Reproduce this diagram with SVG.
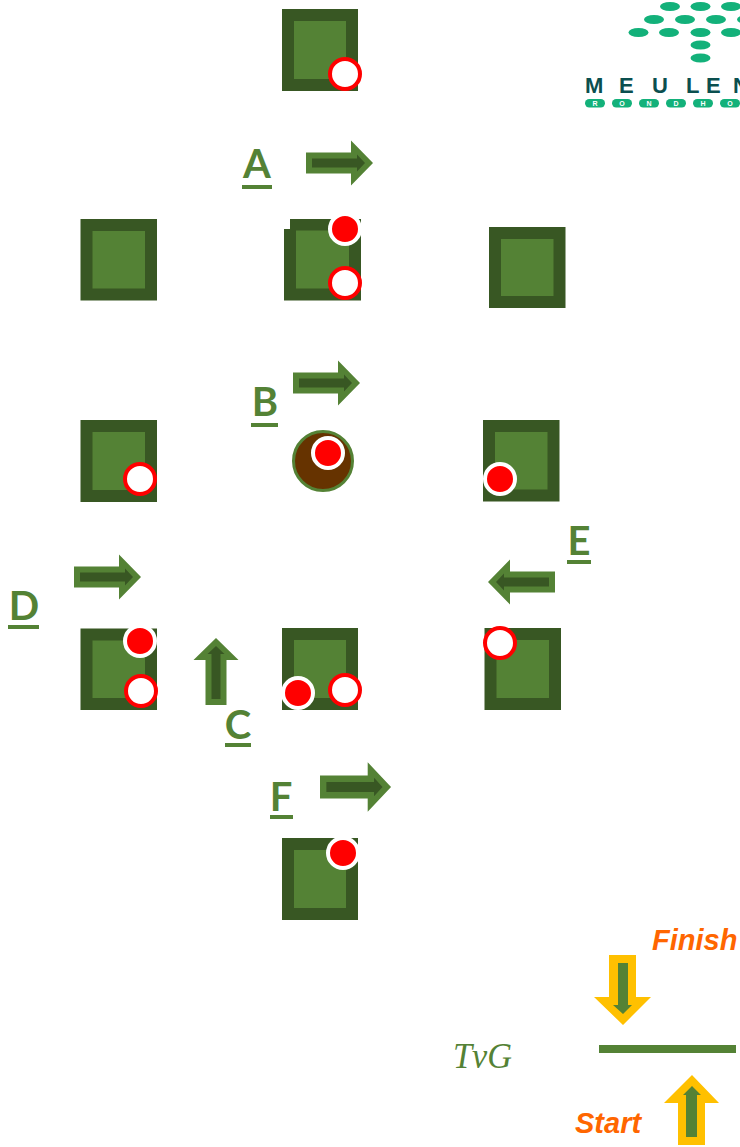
<svg xmlns="http://www.w3.org/2000/svg" xmlns:xlink="http://www.w3.org/1999/xlink" width="740" height="1147" viewBox="0 0 740 1147">
<style>
.o{fill:#385723}.i{fill:#548235}
.rd{fill:#f00;stroke:#fff;stroke-width:4}
.wh{fill:#fff;stroke:#f00;stroke-width:4}
.lb{font-family:Lato,"Open Sans",sans-serif;font-weight:700;font-size:40px;fill:#548235;text-anchor:middle}
.se{font-family:"Liberation Sans",Arial,sans-serif;font-weight:700;font-style:italic;font-size:29px;fill:#f60}
.dot{fill:#13b17a}
.lg{font-family:"Liberation Sans",Arial,sans-serif;font-weight:700;font-size:22px;fill:#0b4f4f}
.rh{font-family:"Liberation Sans",Arial,sans-serif;font-weight:700;font-size:7px;fill:#fff;text-anchor:middle}
</style>
<defs>
<g id="ar">
<path class="i" d="M0-10.500H45V-22.500L67 0 45 22.500V10.500H0Z"/>
<path class="o" d="M6-4.500H51V-8.500L59 0 51 8.500V4.500H6Z"/>
</g>
</defs>
<rect width="740" height="1147" fill="#fff"/>
<g id="logo">
<ellipse class="dot" cx="670" cy="6.500" rx="10" ry="4.500"/><ellipse class="dot" cx="700.500" cy="6.500" rx="10" ry="4.500"/><ellipse class="dot" cx="731" cy="6.500" rx="10" ry="4.500"/>
<ellipse class="dot" cx="654" cy="19.500" rx="10" ry="4.500"/><ellipse class="dot" cx="685" cy="19.500" rx="10" ry="4.500"/><ellipse class="dot" cx="716" cy="19.500" rx="10" ry="4.500"/><ellipse class="dot" cx="747" cy="19.500" rx="10" ry="4.500"/>
<ellipse class="dot" cx="638.500" cy="32.500" rx="10" ry="4.500"/><ellipse class="dot" cx="669" cy="32.500" rx="10" ry="4.500"/><ellipse class="dot" cx="700.500" cy="32.500" rx="10" ry="4.500"/><ellipse class="dot" cx="731" cy="32.500" rx="10" ry="4.500"/>
<ellipse class="dot" cx="700.500" cy="45" rx="10" ry="4.500"/><ellipse class="dot" cx="700.500" cy="58" rx="10" ry="4.500"/>
<text class="lg" x="585" y="93">M</text><text class="lg" x="619" y="93">E</text><text class="lg" x="652" y="93">U</text><text class="lg" x="686" y="93">L</text><text class="lg" x="706" y="93">E</text><text class="lg" x="733" y="93">N</text>
<rect class="dot" x="585" y="99" width="20" height="8.500" rx="4.200"/><rect class="dot" x="612" y="99" width="20" height="8.500" rx="4.200"/><rect class="dot" x="639" y="99" width="20" height="8.500" rx="4.200"/><rect class="dot" x="666" y="99" width="20" height="8.500" rx="4.200"/><rect class="dot" x="693" y="99" width="20" height="8.500" rx="4.200"/><rect class="dot" x="720" y="99" width="20" height="8.500" rx="4.200"/>
<text class="rh" x="595" y="106">R</text><text class="rh" x="622" y="106">O</text><text class="rh" x="649" y="106">N</text><text class="rh" x="676" y="106">D</text><text class="rh" x="703" y="106">H</text><text class="rh" x="730" y="106">O</text>
</g>
<g id="connectors">
<use xlink:href="#ar" href="#ar" transform="translate(306 163)"/>
<use xlink:href="#ar" href="#ar" transform="translate(293 383)"/>
<use xlink:href="#ar" href="#ar" transform="translate(74 577)"/>
<use xlink:href="#ar" href="#ar" transform="translate(555 582) scale(-1 1)"/>
<use xlink:href="#ar" href="#ar" transform="translate(216 705) rotate(-90)"/>
<use xlink:href="#ar" href="#ar" transform="translate(320 787) scale(1.060 1.100)"/>
<g id="finish-arrow"><path fill="#ffc000" d="M609 955H636V997H651L623 1025 594 997H609Z"/><path class="i" d="M618 963H628V1005H632L623 1014 613 1005H618Z"/></g>
<g id="start-arrow"><path fill="#ffc000" d="M678 1145V1103H664L692 1075 719 1103H705V1145Z"/><path class="i" d="M686 1137V1095H683L692 1086 701 1095H697V1137Z"/></g>
</g>
<g id="label-A"><text class="lb" x="257" y="178">A</text><rect class="i" x="242" y="185" width="30" height="4"/></g>
<g id="label-B"><text class="lb" x="265" y="416">B</text><rect class="i" x="251" y="423" width="27" height="4"/></g>
<g id="label-C"><text class="lb" x="238" y="739">C</text><rect class="i" x="225" y="743" width="26" height="4"/></g>
<g id="label-D"><text class="lb" x="24" y="620">D</text><rect class="i" x="8" y="625" width="31" height="4"/></g>
<g id="label-E"><text class="lb" x="579" y="555">E</text><rect class="i" x="567" y="560" width="24" height="4"/></g>
<g id="label-F"><text class="lb" x="281" y="811">F</text><rect class="i" x="270" y="815" width="23" height="4"/></g>
<g id="node-top"><rect class="o" x="282" y="9" width="76" height="82"/><rect class="i" x="294" y="21" width="52" height="58"/><circle class="wh" cx="345" cy="74" r="15"/></g>
<g id="node-a-left"><rect class="o" x="80.500" y="219" width="76.500" height="81.500"/><rect class="i" x="92.500" y="231" width="52.500" height="57.500"/></g>
<g id="node-a-mid"><path class="o" d="M290 219H361V300.500H284V229H290Z"/><rect class="i" x="296" y="230.500" width="53" height="58"/><circle class="rd" cx="345" cy="229" r="15"/><circle class="wh" cx="345" cy="283" r="15"/></g>
<g id="node-a-right"><rect class="o" x="489" y="227" width="76.500" height="81"/><rect class="i" x="501" y="239" width="52.500" height="57"/></g>
<g id="node-b-left"><rect class="o" x="80.500" y="420" width="76.500" height="82"/><rect class="i" x="92.500" y="432" width="52.500" height="58"/><circle class="wh" cx="140" cy="479" r="15"/></g>
<g id="node-b-mid"><circle cx="323" cy="461" r="29.500" fill="#663300" stroke="#548235" stroke-width="3"/><circle class="rd" cx="328" cy="453" r="15"/></g>
<g id="node-b-right"><rect class="o" x="483" y="420" width="76.500" height="81.500"/><rect class="i" x="495" y="432" width="52.500" height="57.500"/><circle class="rd" cx="500" cy="479" r="15"/></g>
<g id="node-c-left"><rect class="o" x="80.500" y="628.500" width="76.500" height="81.500"/><rect class="i" x="92.500" y="640.500" width="52.500" height="57.500"/><circle class="rd" cx="140" cy="641" r="15"/><circle class="wh" cx="141" cy="691" r="15"/></g>
<g id="node-c-mid"><rect class="o" x="282" y="628" width="76" height="82"/><rect class="i" x="294" y="640" width="52" height="58"/><circle class="rd" cx="298" cy="693" r="15"/><circle class="wh" cx="345" cy="690" r="15"/></g>
<g id="node-c-right"><rect class="o" x="484.500" y="628" width="76.500" height="82"/><rect class="i" x="496.500" y="640" width="52.500" height="58"/><circle class="wh" cx="500" cy="643" r="15"/></g>
<g id="node-f"><rect class="o" x="282" y="838" width="76" height="82"/><rect class="i" x="294" y="850" width="52" height="58"/><circle class="rd" cx="343" cy="853" r="15"/></g>
<g id="legend">
<text class="se" x="652" y="950">Finish</text>
<text class="se" x="575" y="1133">Start</text>
<rect class="i" x="599" y="1045" width="137" height="8"/>
<text x="453" y="1068" font-family="'Liberation Serif',serif" font-style="italic" font-size="36" fill="#548235" textLength="59" lengthAdjust="spacingAndGlyphs">TvG</text>
</g>
</svg>
